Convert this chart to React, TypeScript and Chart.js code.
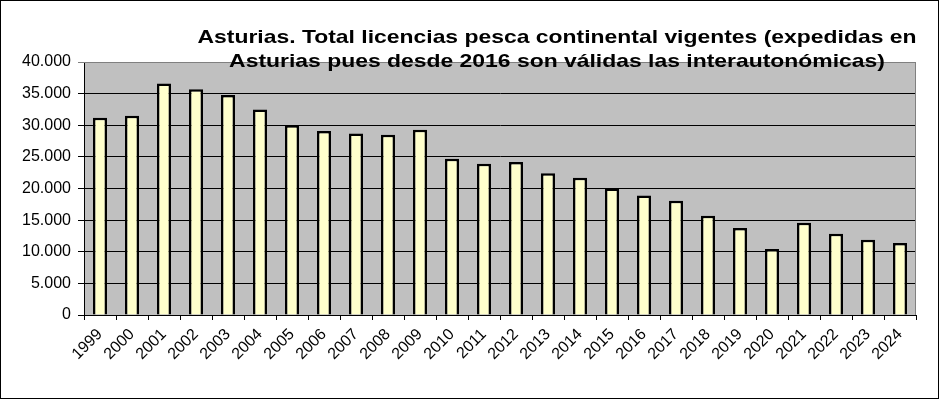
import React, { useEffect, useRef } from "react";
import { Chart, registerables } from "chart.js";

Chart.register(...registerables);

const years = ["1999","2000","2001","2002","2003","2004","2005","2006","2007","2008","2009","2010","2011","2012","2013","2014","2015","2016","2017","2018","2019","2020","2021","2022","2023","2024"];
const licencias = [31200, 31500, 36600, 35700, 34800, 32500, 30000, 29100, 28700, 28500, 29300, 24700, 23900, 24200, 22400, 21700, 20000, 18900, 18050, 15700, 13750, 10450, 14600, 12850, 11900, 11400];
const titleLines = [
  "Asturias. Total licencias pesca continental vigentes (expedidas en",
  "Asturias pues desde 2016 son válidas las interautonómicas)",
];
const yMin = 0;
const yMax = 40000;
const yStep = 5000;

const FONT = "'Liberation Sans', Arial, sans-serif";

function fmt(v: number): string {
  const s = Math.round(v).toString();
  return s.replace(/\B(?=(\d{3})+(?!\d))/g, ".");
}

export default function App() {
  const ref = useRef<HTMLCanvasElement | null>(null);
  useEffect(() => {
    if (!ref.current) return;
    const deco = {
      id: "deco",
      beforeDraw(chart: any) {
        const { ctx, chartArea: a, width, height } = chart;
        ctx.save();
        ctx.fillStyle = "#ffffff";
        ctx.fillRect(0, 0, width, height);
        ctx.fillStyle = "#C0C0C0";
        ctx.fillRect(a.left, a.top, a.right - a.left, a.bottom - a.top);
        ctx.restore();
      },
      beforeDatasetsDraw(chart: any) {
        const { ctx, chartArea: a } = chart;
        ctx.save();
        ctx.strokeStyle = "#808080";
        ctx.lineWidth = 1;
        ctx.beginPath();
        ctx.moveTo(a.left, a.top + 0.5);
        ctx.lineTo(a.right - 0.5, a.top + 0.5);
        ctx.lineTo(a.right - 0.5, a.bottom);
        ctx.stroke();
        ctx.restore();
      },
      afterDraw(chart: any) {
        const { ctx, width, height } = chart;
        ctx.save();
        ctx.strokeStyle = "#000000";
        ctx.lineWidth = 1;
        ctx.strokeRect(0.5, 0.5, width - 1, height - 1);
        ctx.fillStyle = "#000000";
        ctx.font = `bold 19px ${FONT}`;
        ctx.textAlign = "center";
        ctx.textBaseline = "alphabetic";
        const w1 = ctx.measureText(titleLines[0]).width;
        const sx = 719 / w1;
        const cx = 557;
        ctx.translate(cx, 0);
        ctx.scale(sx, 1);
        ctx.fillText(titleLines[0], 0, 43);
        ctx.fillText(titleLines[1], 0, 67);
        ctx.restore();
      },
    };
    const chart = new Chart(ref.current, {
      type: "bar",
      data: {
        labels: years,
        datasets: [
          {
            data: licencias,
            backgroundColor: "#FFFFCC",
            borderColor: "#000000",
            borderWidth: 2.5,
            barPercentage: 0.44,
            categoryPercentage: 1,
          },
        ],
      },
      options: {
        animation: false,
        responsive: false,
        layout: { padding: { left: 0, right: 23, top: 62, bottom: 0 } },
        plugins: {
          legend: { display: false },
          title: { display: false },
          tooltip: { enabled: false },
        },
        scales: {
          x: {
            offset: true,
            grid: {
              offset: true,
              drawOnChartArea: false,
              drawTicks: true,
              tickLength: 5,
              color: "#000000",
            },
            border: { display: true, color: "#000000", width: 1 },
            ticks: {
              color: "#000000",
              font: { family: FONT, size: 16 },
              minRotation: 45,
              maxRotation: 45,
              autoSkip: false,
              padding: 5,
            },
            afterFit(scale: any) {
              scale.height = 84;
            },
          },
          y: {
            min: yMin,
            max: yMax,
            grid: {
              color: (c: any) => (c.tick && c.tick.value === yMax ? "#808080" : "#000000"),
              drawTicks: true,
              tickLength: 6,
            },
            border: { display: true, color: "#000000", width: 1 },
            ticks: {
              stepSize: yStep,
              color: "#000000",
              font: { family: FONT, size: 16 },
              padding: 7,
              callback: (v: any) => fmt(Number(v)),
            },
            afterFit(scale: any) {
              scale.width = 84;
            },
          },
        },
      },
      plugins: [deco],
    });
    return () => chart.destroy();
  }, []);
  return (
    <div style={{ position: "fixed", left: 0, top: 0, width: 939, height: 399 }}>
      <canvas ref={ref} width={939} height={399} style={{ display: "block", width: 939, height: 399 }} />
    </div>
  );
}
